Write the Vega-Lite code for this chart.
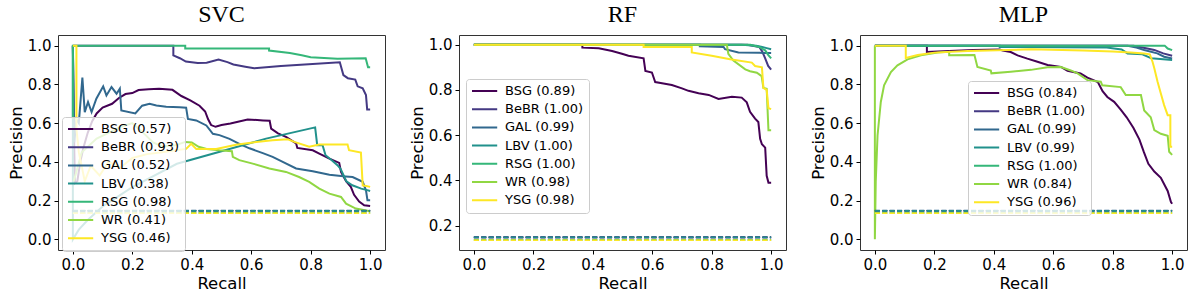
{
"$schema":"https://vega.github.io/schema/vega-lite/v6.json",
"padding":{"left":7,"top":2,"right":5,"bottom":2},
"bounds":"flush",
"spacing":74,
"config":{
 "view":{"stroke":"#333","strokeWidth":1},
 "axis":{"labelFont":"DejaVu Sans","labelFontSize":15,"labelColor":"#000","titleFont":"DejaVu Sans","titleFontSize":16.5,"titleFontWeight":"normal","titleColor":"#000","tickColor":"#000","tickSize":4,"domain":false,"grid":false,"labelPadding":3,"titlePadding":3},
 "title":{"font":"Liberation Serif","fontSize":24,"fontWeight":"normal","color":"#000","offset":8},
 "legend":{"symbolType":"M-1,0H3.2","symbolStrokeWidth":2,"symbolSize":144,"labelFont":"DejaVu Sans","labelFontSize":13,"labelColor":"#000","labelOffset":20,"padding":5,"rowPadding":4.2,"strokeColor":"#ccc","fillColor":"rgba(255,255,255,0.8)","cornerRadius":3,"labelLimit":0,"symbolDash":[1,0]}
},
"datasets":{
"svc":[
{"c":"BSG","r":0,"p":1},{"c":"BSG","r":0.003,"p":0.6},{"c":"BSG","r":0.007,"p":0.29},{"c":"BSG","r":0.015,"p":0.3},{"c":"BSG","r":0.025,"p":0.4},{"c":"BSG","r":0.035,"p":0.47},{"c":"BSG","r":0.05,"p":0.55},{"c":"BSG","r":0.065,"p":0.61},{"c":"BSG","r":0.08,"p":0.65},{"c":"BSG","r":0.1,"p":0.68},{"c":"BSG","r":0.132,"p":0.7},{"c":"BSG","r":0.155,"p":0.73},{"c":"BSG","r":0.177,"p":0.75},{"c":"BSG","r":0.2,"p":0.755},{"c":"BSG","r":0.221,"p":0.771},{"c":"BSG","r":0.255,"p":0.775},{"c":"BSG","r":0.29,"p":0.778},{"c":"BSG","r":0.335,"p":0.772},{"c":"BSG","r":0.365,"p":0.74},{"c":"BSG","r":0.395,"p":0.717},{"c":"BSG","r":0.426,"p":0.69},{"c":"BSG","r":0.445,"p":0.66},{"c":"BSG","r":0.455,"p":0.62},{"c":"BSG","r":0.465,"p":0.59},{"c":"BSG","r":0.48,"p":0.581},{"c":"BSG","r":0.5,"p":0.59},{"c":"BSG","r":0.53,"p":0.598},{"c":"BSG","r":0.588,"p":0.619},{"c":"BSG","r":0.64,"p":0.614},{"c":"BSG","r":0.662,"p":0.612},{"c":"BSG","r":0.667,"p":0.572},{"c":"BSG","r":0.69,"p":0.547},{"c":"BSG","r":0.717,"p":0.529},{"c":"BSG","r":0.751,"p":0.495},{"c":"BSG","r":0.755,"p":0.472},{"c":"BSG","r":0.807,"p":0.46},{"c":"BSG","r":0.829,"p":0.443},{"c":"BSG","r":0.863,"p":0.417},{"c":"BSG","r":0.896,"p":0.395},{"c":"BSG","r":0.902,"p":0.348},{"c":"BSG","r":0.919,"p":0.3},{"c":"BSG","r":0.935,"p":0.271},{"c":"BSG","r":0.946,"p":0.23},{"c":"BSG","r":0.963,"p":0.195},{"c":"BSG","r":0.98,"p":0.176},{"c":"BSG","r":1,"p":0.172},
{"c":"BeBR","r":0,"p":1},{"c":"BeBR","r":0.338,"p":1},{"c":"BeBR","r":0.338,"p":0.95},{"c":"BeBR","r":0.36,"p":0.935},{"c":"BeBR","r":0.38,"p":0.918},{"c":"BeBR","r":0.42,"p":0.91},{"c":"BeBR","r":0.45,"p":0.912},{"c":"BeBR","r":0.49,"p":0.928},{"c":"BeBR","r":0.52,"p":0.915},{"c":"BeBR","r":0.54,"p":0.903},{"c":"BeBR","r":0.58,"p":0.891},{"c":"BeBR","r":0.61,"p":0.883},{"c":"BeBR","r":0.7,"p":0.895},{"c":"BeBR","r":0.78,"p":0.903},{"c":"BeBR","r":0.898,"p":0.914},{"c":"BeBR","r":0.91,"p":0.848},{"c":"BeBR","r":0.925,"p":0.832},{"c":"BeBR","r":0.95,"p":0.825},{"c":"BeBR","r":0.958,"p":0.79},{"c":"BeBR","r":0.975,"p":0.78},{"c":"BeBR","r":0.986,"p":0.745},{"c":"BeBR","r":0.99,"p":0.671},{"c":"BeBR","r":1,"p":0.671},
{"c":"GAL","r":0,"p":1},{"c":"GAL","r":0.005,"p":0.5},{"c":"GAL","r":0.012,"p":0.62},{"c":"GAL","r":0.02,"p":0.6},{"c":"GAL","r":0.032,"p":0.835},{"c":"GAL","r":0.04,"p":0.657},{"c":"GAL","r":0.051,"p":0.709},{"c":"GAL","r":0.063,"p":0.657},{"c":"GAL","r":0.079,"p":0.726},{"c":"GAL","r":0.102,"p":0.79},{"c":"GAL","r":0.113,"p":0.743},{"c":"GAL","r":0.13,"p":0.786},{"c":"GAL","r":0.147,"p":0.752},{"c":"GAL","r":0.158,"p":0.778},{"c":"GAL","r":0.163,"p":0.665},{"c":"GAL","r":0.21,"p":0.65},{"c":"GAL","r":0.233,"p":0.69},{"c":"GAL","r":0.258,"p":0.7},{"c":"GAL","r":0.281,"p":0.691},{"c":"GAL","r":0.314,"p":0.685},{"c":"GAL","r":0.359,"p":0.682},{"c":"GAL","r":0.381,"p":0.68},{"c":"GAL","r":0.387,"p":0.622},{"c":"GAL","r":0.415,"p":0.614},{"c":"GAL","r":0.449,"p":0.588},{"c":"GAL","r":0.471,"p":0.545},{"c":"GAL","r":0.493,"p":0.538},{"c":"GAL","r":0.527,"p":0.519},{"c":"GAL","r":0.56,"p":0.493},{"c":"GAL","r":0.594,"p":0.47},{"c":"GAL","r":0.639,"p":0.445},{"c":"GAL","r":0.672,"p":0.426},{"c":"GAL","r":0.706,"p":0.4},{"c":"GAL","r":0.751,"p":0.366},{"c":"GAL","r":0.807,"p":0.352},{"c":"GAL","r":0.863,"p":0.333},{"c":"GAL","r":0.918,"p":0.325},{"c":"GAL","r":0.941,"p":0.322},{"c":"GAL","r":0.975,"p":0.297},{"c":"GAL","r":0.986,"p":0.253},{"c":"GAL","r":0.991,"p":0.202},{"c":"GAL","r":1,"p":0.202},
{"c":"LBV","r":0,"p":1},{"c":"LBV","r":0,"p":0},{"c":"LBV","r":0.02,"p":0.05},{"c":"LBV","r":0.05,"p":0.1},{"c":"LBV","r":0.1,"p":0.17},{"c":"LBV","r":0.2,"p":0.27},{"c":"LBV","r":0.35,"p":0.39},{"c":"LBV","r":0.5,"p":0.455},{"c":"LBV","r":0.65,"p":0.52},{"c":"LBV","r":0.815,"p":0.578},{"c":"LBV","r":0.822,"p":0.486},{"c":"LBV","r":0.84,"p":0.486},{"c":"LBV","r":0.85,"p":0.434},{"c":"LBV","r":0.87,"p":0.41},{"c":"LBV","r":0.89,"p":0.383},{"c":"LBV","r":0.9,"p":0.365},{"c":"LBV","r":0.92,"p":0.3},{"c":"LBV","r":0.94,"p":0.279},{"c":"LBV","r":0.97,"p":0.262},{"c":"LBV","r":0.99,"p":0.254},{"c":"LBV","r":1,"p":0.25},
{"c":"RSG","r":0,"p":0.62},{"c":"RSG","r":0,"p":1},{"c":"RSG","r":0.378,"p":1},{"c":"RSG","r":0.378,"p":0.985},{"c":"RSG","r":0.66,"p":0.985},{"c":"RSG","r":0.66,"p":0.975},{"c":"RSG","r":0.73,"p":0.962},{"c":"RSG","r":0.77,"p":0.95},{"c":"RSG","r":0.8,"p":0.94},{"c":"RSG","r":0.89,"p":0.932},{"c":"RSG","r":0.985,"p":0.935},{"c":"RSG","r":0.993,"p":0.888},{"c":"RSG","r":1,"p":0.888},
{"c":"WR","r":0.003,"p":0.3},{"c":"WR","r":0.03,"p":0.45},{"c":"WR","r":0.08,"p":0.52},{"c":"WR","r":0.12,"p":0.55},{"c":"WR","r":0.16,"p":0.58},{"c":"WR","r":0.2,"p":0.6},{"c":"WR","r":0.23,"p":0.56},{"c":"WR","r":0.27,"p":0.5},{"c":"WR","r":0.3,"p":0.48},{"c":"WR","r":0.345,"p":0.486},{"c":"WR","r":0.378,"p":0.503},{"c":"WR","r":0.4,"p":0.5},{"c":"WR","r":0.423,"p":0.478},{"c":"WR","r":0.45,"p":0.467},{"c":"WR","r":0.493,"p":0.46},{"c":"WR","r":0.535,"p":0.455},{"c":"WR","r":0.538,"p":0.426},{"c":"WR","r":0.56,"p":0.409},{"c":"WR","r":0.605,"p":0.391},{"c":"WR","r":0.661,"p":0.366},{"c":"WR","r":0.717,"p":0.348},{"c":"WR","r":0.761,"p":0.322},{"c":"WR","r":0.795,"p":0.297},{"c":"WR","r":0.829,"p":0.262},{"c":"WR","r":0.863,"p":0.236},{"c":"WR","r":0.902,"p":0.219},{"c":"WR","r":0.919,"p":0.184},{"c":"WR","r":0.952,"p":0.159},{"c":"WR","r":1,"p":0.145},
{"c":"YSG","r":0,"p":1},{"c":"YSG","r":0.012,"p":1},{"c":"YSG","r":0.012,"p":0.57},{"c":"YSG","r":0.02,"p":0.45},{"c":"YSG","r":0.04,"p":0.3},{"c":"YSG","r":0.06,"p":0.38},{"c":"YSG","r":0.09,"p":0.33},{"c":"YSG","r":0.12,"p":0.4},{"c":"YSG","r":0.16,"p":0.37},{"c":"YSG","r":0.2,"p":0.42},{"c":"YSG","r":0.25,"p":0.44},{"c":"YSG","r":0.3,"p":0.45},{"c":"YSG","r":0.345,"p":0.46},{"c":"YSG","r":0.381,"p":0.467},{"c":"YSG","r":0.398,"p":0.493},{"c":"YSG","r":0.415,"p":0.467},{"c":"YSG","r":0.482,"p":0.467},{"c":"YSG","r":0.549,"p":0.488},{"c":"YSG","r":0.605,"p":0.5},{"c":"YSG","r":0.672,"p":0.512},{"c":"YSG","r":0.723,"p":0.517},{"c":"YSG","r":0.745,"p":0.503},{"c":"YSG","r":0.795,"p":0.478},{"c":"YSG","r":0.829,"p":0.49},{"c":"YSG","r":0.924,"p":0.49},{"c":"YSG","r":0.929,"p":0.46},{"c":"YSG","r":0.969,"p":0.448},{"c":"YSG","r":0.975,"p":0.279},{"c":"YSG","r":1,"p":0.271}
],
"rf":[
{"c":"BSG","r":0,"p":1},{"c":"BSG","r":0.365,"p":1},{"c":"BSG","r":0.365,"p":0.987},{"c":"BSG","r":0.42,"p":0.984},{"c":"BSG","r":0.465,"p":0.972},{"c":"BSG","r":0.498,"p":0.96},{"c":"BSG","r":0.52,"p":0.951},{"c":"BSG","r":0.571,"p":0.94},{"c":"BSG","r":0.577,"p":0.884},{"c":"BSG","r":0.599,"p":0.877},{"c":"BSG","r":0.61,"p":0.835},{"c":"BSG","r":0.633,"p":0.83},{"c":"BSG","r":0.666,"p":0.822},{"c":"BSG","r":0.7,"p":0.807},{"c":"BSG","r":0.722,"p":0.796},{"c":"BSG","r":0.756,"p":0.785},{"c":"BSG","r":0.79,"p":0.778},{"c":"BSG","r":0.823,"p":0.76},{"c":"BSG","r":0.868,"p":0.77},{"c":"BSG","r":0.901,"p":0.766},{"c":"BSG","r":0.918,"p":0.745},{"c":"BSG","r":0.929,"p":0.703},{"c":"BSG","r":0.946,"p":0.673},{"c":"BSG","r":0.957,"p":0.658},{"c":"BSG","r":0.963,"p":0.584},{"c":"BSG","r":0.969,"p":0.56},{"c":"BSG","r":0.98,"p":0.545},{"c":"BSG","r":0.985,"p":0.42},{"c":"BSG","r":0.991,"p":0.39},{"c":"BSG","r":1,"p":0.39},
{"c":"BeBR","r":0,"p":1},{"c":"BeBR","r":0.92,"p":1},{"c":"BeBR","r":0.96,"p":0.99},{"c":"BeBR","r":0.97,"p":0.97},{"c":"BeBR","r":0.98,"p":0.94},{"c":"BeBR","r":0.99,"p":0.906},{"c":"BeBR","r":1,"p":0.89},
{"c":"GAL","r":0,"p":1},{"c":"GAL","r":0.76,"p":1},{"c":"GAL","r":0.76,"p":0.993},{"c":"GAL","r":0.84,"p":0.99},{"c":"GAL","r":0.845,"p":0.98},{"c":"GAL","r":0.89,"p":0.966},{"c":"GAL","r":0.96,"p":0.964},{"c":"GAL","r":1,"p":0.963},
{"c":"LBV","r":0,"p":1},{"c":"LBV","r":0.9,"p":1},{"c":"LBV","r":0.95,"p":0.995},{"c":"LBV","r":0.97,"p":0.99},{"c":"LBV","r":0.985,"p":0.985},{"c":"LBV","r":1,"p":0.98},
{"c":"RSG","r":0,"p":1},{"c":"RSG","r":0.93,"p":1},{"c":"RSG","r":0.96,"p":0.99},{"c":"RSG","r":0.98,"p":0.975},{"c":"RSG","r":0.99,"p":0.955},{"c":"RSG","r":1,"p":0.94},
{"c":"WR","r":0,"p":1},{"c":"WR","r":0.851,"p":1},{"c":"WR","r":0.856,"p":0.96},{"c":"WR","r":0.873,"p":0.93},{"c":"WR","r":0.913,"p":0.891},{"c":"WR","r":0.929,"p":0.883},{"c":"WR","r":0.952,"p":0.876},{"c":"WR","r":0.968,"p":0.861},{"c":"WR","r":0.974,"p":0.809},{"c":"WR","r":0.985,"p":0.805},{"c":"WR","r":0.991,"p":0.622},{"c":"WR","r":1,"p":0.622},
{"c":"YSG","r":0,"p":1},{"c":"YSG","r":0.571,"p":1},{"c":"YSG","r":0.571,"p":0.99},{"c":"YSG","r":0.733,"p":0.99},{"c":"YSG","r":0.733,"p":0.966},{"c":"YSG","r":0.8,"p":0.951},{"c":"YSG","r":0.862,"p":0.936},{"c":"YSG","r":0.935,"p":0.921},{"c":"YSG","r":0.946,"p":0.906},{"c":"YSG","r":0.969,"p":0.9},{"c":"YSG","r":0.974,"p":0.809},{"c":"YSG","r":0.985,"p":0.8},{"c":"YSG","r":0.991,"p":0.719},{"c":"YSG","r":1,"p":0.715}
],
"mlp":[
{"c":"BSG","r":0,"p":1},{"c":"BSG","r":0.175,"p":1},{"c":"BSG","r":0.175,"p":0.967},{"c":"BSG","r":0.25,"p":0.973},{"c":"BSG","r":0.33,"p":0.977},{"c":"BSG","r":0.42,"p":0.98},{"c":"BSG","r":0.43,"p":0.975},{"c":"BSG","r":0.457,"p":0.967},{"c":"BSG","r":0.48,"p":0.95},{"c":"BSG","r":0.513,"p":0.933},{"c":"BSG","r":0.547,"p":0.917},{"c":"BSG","r":0.581,"p":0.9},{"c":"BSG","r":0.626,"p":0.89},{"c":"BSG","r":0.648,"p":0.87},{"c":"BSG","r":0.692,"p":0.856},{"c":"BSG","r":0.715,"p":0.835},{"c":"BSG","r":0.75,"p":0.812},{"c":"BSG","r":0.766,"p":0.765},{"c":"BSG","r":0.782,"p":0.735},{"c":"BSG","r":0.805,"p":0.71},{"c":"BSG","r":0.827,"p":0.67},{"c":"BSG","r":0.847,"p":0.63},{"c":"BSG","r":0.87,"p":0.575},{"c":"BSG","r":0.89,"p":0.515},{"c":"BSG","r":0.905,"p":0.45},{"c":"BSG","r":0.92,"p":0.39},{"c":"BSG","r":0.94,"p":0.35},{"c":"BSG","r":0.962,"p":0.318},{"c":"BSG","r":0.985,"p":0.25},{"c":"BSG","r":0.996,"p":0.193},{"c":"BSG","r":1,"p":0.184},
{"c":"BeBR","r":0,"p":1},{"c":"BeBR","r":0.87,"p":1},{"c":"BeBR","r":0.9,"p":0.99},{"c":"BeBR","r":0.94,"p":0.978},{"c":"BeBR","r":0.97,"p":0.96},{"c":"BeBR","r":1,"p":0.948},
{"c":"GAL","r":0,"p":1},{"c":"GAL","r":0.85,"p":1},{"c":"GAL","r":0.88,"p":0.99},{"c":"GAL","r":0.906,"p":0.978},{"c":"GAL","r":0.95,"p":0.96},{"c":"GAL","r":0.973,"p":0.943},{"c":"GAL","r":1,"p":0.934},
{"c":"LBV","r":0,"p":1},{"c":"LBV","r":0.42,"p":1},{"c":"LBV","r":0.42,"p":0.993},{"c":"LBV","r":0.78,"p":0.99},{"c":"LBV","r":0.83,"p":0.98},{"c":"LBV","r":0.85,"p":0.96},{"c":"LBV","r":0.9,"p":0.955},{"c":"LBV","r":0.93,"p":0.935},{"c":"LBV","r":1,"p":0.926},
{"c":"RSG","r":0,"p":1},{"c":"RSG","r":0.975,"p":1},{"c":"RSG","r":0.985,"p":0.985},{"c":"RSG","r":1,"p":0.977},
{"c":"WR","r":0,"p":1},{"c":"WR","r":0,"p":0},{"c":"WR","r":0.003,"p":0.3},{"c":"WR","r":0.009,"p":0.536},{"c":"WR","r":0.02,"p":0.709},{"c":"WR","r":0.031,"p":0.795},{"c":"WR","r":0.054,"p":0.864},{"c":"WR","r":0.076,"p":0.898},{"c":"WR","r":0.11,"p":0.929},{"c":"WR","r":0.155,"p":0.95},{"c":"WR","r":0.211,"p":0.964},{"c":"WR","r":0.25,"p":0.968},{"c":"WR","r":0.25,"p":0.95},{"c":"WR","r":0.335,"p":0.952},{"c":"WR","r":0.345,"p":0.89},{"c":"WR","r":0.39,"p":0.872},{"c":"WR","r":0.392,"p":0.857},{"c":"WR","r":0.457,"p":0.865},{"c":"WR","r":0.525,"p":0.875},{"c":"WR","r":0.581,"p":0.888},{"c":"WR","r":0.626,"p":0.89},{"c":"WR","r":0.659,"p":0.872},{"c":"WR","r":0.682,"p":0.857},{"c":"WR","r":0.715,"p":0.822},{"c":"WR","r":0.76,"p":0.814},{"c":"WR","r":0.765,"p":0.795},{"c":"WR","r":0.827,"p":0.786},{"c":"WR","r":0.844,"p":0.745},{"c":"WR","r":0.895,"p":0.745},{"c":"WR","r":0.906,"p":0.665},{"c":"WR","r":0.928,"p":0.63},{"c":"WR","r":0.94,"p":0.564},{"c":"WR","r":0.962,"p":0.545},{"c":"WR","r":0.985,"p":0.535},{"c":"WR","r":0.99,"p":0.452},{"c":"WR","r":1,"p":0.436},
{"c":"YSG","r":0,"p":1},{"c":"YSG","r":0.104,"p":1},{"c":"YSG","r":0.104,"p":0.936},{"c":"YSG","r":0.144,"p":0.952},{"c":"YSG","r":0.2,"p":0.964},{"c":"YSG","r":0.312,"p":0.973},{"c":"YSG","r":0.525,"p":0.981},{"c":"YSG","r":0.7,"p":0.975},{"c":"YSG","r":0.8,"p":0.97},{"c":"YSG","r":0.86,"p":0.965},{"c":"YSG","r":0.906,"p":0.96},{"c":"YSG","r":0.925,"p":0.955},{"c":"YSG","r":0.934,"p":0.917},{"c":"YSG","r":0.94,"p":0.883},{"c":"YSG","r":0.951,"p":0.814},{"c":"YSG","r":0.962,"p":0.753},{"c":"YSG","r":0.973,"p":0.693},{"c":"YSG","r":0.985,"p":0.641},{"c":"YSG","r":0.994,"p":0.641},{"c":"YSG","r":0.994,"p":0.478},{"c":"YSG","r":1,"p":0.478}
],
"base":[
{"c":"BSG","r":0,"p":0.148},{"c":"BSG","r":1,"p":0.148},
{"c":"BeBR","r":0,"p":0.148},{"c":"BeBR","r":1,"p":0.148},
{"c":"GAL","r":0,"p":0.149},{"c":"GAL","r":1,"p":0.149},
{"c":"LBV","r":0,"p":0.147},{"c":"LBV","r":1,"p":0.147},
{"c":"RSG","r":0,"p":0.137},{"c":"RSG","r":1,"p":0.137},
{"c":"WR","r":0,"p":0.136},{"c":"WR","r":1,"p":0.136},
{"c":"YSG","r":0,"p":0.135},{"c":"YSG","r":1,"p":0.135}
]
},
"resolve":{"scale":{"color":"independent","y":"independent","x":"independent"},"legend":{"color":"independent"}},
"hconcat":[
{
 "width":327,"height":215,
 "title":"SVC",
 "encoding":{
  "x":{"field":"r","type":"quantitative","scale":{"domain":[-0.05,1.05],"nice":false,"zero":false},"axis":{"values":[0,0.2,0.4,0.6,0.8,1],"format":".1f","title":"Recall"}},
  "y":{"field":"p","type":"quantitative","scale":{"domain":[-0.055,1.055],"nice":false,"zero":false},"axis":{"values":[0,0.2,0.4,0.6,0.8,1],"format":".1f","title":"Precision"}}
 },
 "layer":[
  {"data":{"name":"svc"},"mark":{"type":"line","strokeWidth":2},
   "encoding":{"order":{"value":null},"color":{"field":"c","type":"nominal","scale":{"domain":["BSG","BeBR","GAL","LBV","RSG","WR","YSG"],"range":["#440154","#443983","#31688e","#21918c","#35b779","#90d743","#fde725"]},
    "legend":{"title":null,"orient":"none","legendX":4,"legendY":82,"labelExpr":"datum.label=='BSG'?'BSG (0.57)':datum.label=='BeBR'?'BeBR (0.93)':datum.label=='GAL'?'GAL (0.52)':datum.label=='LBV'?'LBV (0.38)':datum.label=='RSG'?'RSG (0.98)':datum.label=='WR'?'WR (0.41)':'YSG (0.46)'"}}}},
  {"data":{"name":"base"},"mark":{"type":"line","strokeWidth":1.6,"strokeDash":[5,2.4]},
   "encoding":{"order":{"value":null},"color":{"field":"c","type":"nominal","legend":null}}}
 ]
},
{
 "width":327,"height":215,
 "title":"RF",
 "encoding":{
  "x":{"field":"r","type":"quantitative","scale":{"domain":[-0.05,1.05],"nice":false,"zero":false},"axis":{"values":[0,0.2,0.4,0.6,0.8,1],"format":".1f","title":"Recall"}},
  "y":{"field":"p","type":"quantitative","scale":{"domain":[0.092,1.043],"nice":false,"zero":false},"axis":{"values":[0.2,0.4,0.6,0.8,1],"format":".1f","title":"Precision"}}
 },
 "layer":[
  {"data":{"name":"rf"},"mark":{"type":"line","strokeWidth":2},
   "encoding":{"order":{"value":null},"color":{"field":"c","type":"nominal","scale":{"domain":["BSG","BeBR","GAL","LBV","RSG","WR","YSG"],"range":["#440154","#443983","#31688e","#21918c","#35b779","#90d743","#fde725"]},
    "legend":{"title":null,"orient":"none","legendX":7,"legendY":44,"labelExpr":"datum.label=='BSG'?'BSG (0.89)':datum.label=='BeBR'?'BeBR (1.00)':datum.label=='GAL'?'GAL (0.99)':datum.label=='LBV'?'LBV (1.00)':datum.label=='RSG'?'RSG (1.00)':datum.label=='WR'?'WR (0.98)':'YSG (0.98)'"}}}},
  {"data":{"name":"base"},"mark":{"type":"line","strokeWidth":1.6,"strokeDash":[5,2.4]},
   "encoding":{"order":{"value":null},"color":{"field":"c","type":"nominal","legend":null}}}
 ]
},
{
 "width":327,"height":215,
 "title":"MLP",
 "encoding":{
  "x":{"field":"r","type":"quantitative","scale":{"domain":[-0.05,1.05],"nice":false,"zero":false},"axis":{"values":[0,0.2,0.4,0.6,0.8,1],"format":".1f","title":"Recall"}},
  "y":{"field":"p","type":"quantitative","scale":{"domain":[-0.055,1.055],"nice":false,"zero":false},"axis":{"values":[0,0.2,0.4,0.6,0.8,1],"format":".1f","title":"Precision"}}
 },
 "layer":[
  {"data":{"name":"mlp"},"mark":{"type":"line","strokeWidth":2},
   "encoding":{"order":{"value":null},"color":{"field":"c","type":"nominal","scale":{"domain":["BSG","BeBR","GAL","LBV","RSG","WR","YSG"],"range":["#440154","#443983","#31688e","#21918c","#35b779","#90d743","#fde725"]},
    "legend":{"title":null,"orient":"none","legendX":108,"legendY":46,"labelExpr":"datum.label=='BSG'?'BSG (0.84)':datum.label=='BeBR'?'BeBR (1.00)':datum.label=='GAL'?'GAL (0.99)':datum.label=='LBV'?'LBV (0.99)':datum.label=='RSG'?'RSG (1.00)':datum.label=='WR'?'WR (0.84)':'YSG (0.96)'"}}}},
  {"data":{"name":"base"},"mark":{"type":"line","strokeWidth":1.6,"strokeDash":[5,2.4]},
   "encoding":{"order":{"value":null},"color":{"field":"c","type":"nominal","legend":null}}}
 ]
}
]
}
